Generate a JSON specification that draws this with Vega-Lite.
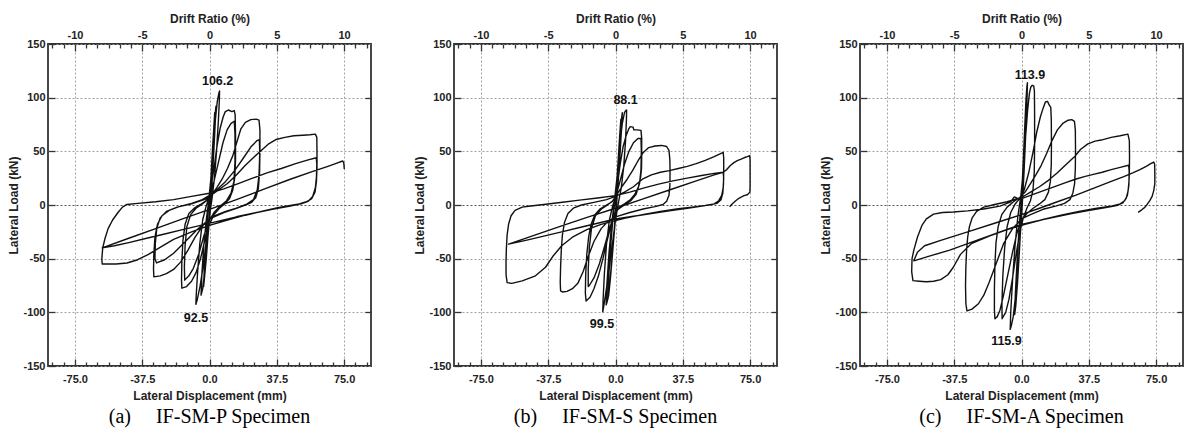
{
"$schema":"https://vega.github.io/schema/vega-lite/v6.json",
"padding":{"left":7,"top":11,"right":0,"bottom":0},
"bounds":"flush",
"spacing":83,
"config":{"view":{"stroke":"#333","strokeWidth":1.8},
"axis":{"labelFont":"Liberation Sans","labelFontWeight":"bold","labelFontSize":11,"labelColor":"#222","titleFont":"Liberation Sans","titleFontWeight":"bold","titleFontSize":12,"titleColor":"#222","domain":false,"tickColor":"#333","tickWidth":1.3,"gridColor":"#999","gridDash":[2,2],"gridWidth":0.9},
"axisY":{"gridColor":{"condition":{"test":"datum.value === 0","value":"#444"},"value":"#999"}}},
"datasets":{
"labels":[{"p":"a","x":4.5,"y":115.5,"t":"106.2"},{"p":"a","x":-7.5,"y":-105,"t":"92.5"},{"p":"b","x":5.6,"y":98,"t":"88.1"},{"p":"b","x":-7.5,"y":-111,"t":"99.5"},{"p":"c","x":4.7,"y":121,"t":"113.9"},{"p":"c","x":-8.4,"y":-126.6,"t":"115.9"}],
"a":[{"x":0,"y":0},{"x":0.8,"y":25},{"x":1.6,"y":50},{"x":2.4,"y":72},{"x":2.9,"y":86},{"x":2.6,"y":74},{"x":1.8,"y":45},{"x":1,"y":18},{"x":0.2,"y":-5},{"x":-0.8,"y":-28},{"x":-1.8,"y":-50},{"x":-2.8,"y":-68},{"x":-3.3,"y":-76},{"x":-2.9,"y":-60},{"x":-2,"y":-35},{"x":-1,"y":-12},{"x":0,"y":6},
{"x":1,"y":30},{"x":2,"y":58},{"x":3,"y":82},{"x":3.6,"y":92},{"x":3.3,"y":80},{"x":2.4,"y":50},{"x":1.4,"y":20},{"x":0.4,"y":-6},{"x":-1,"y":-32},{"x":-2.4,"y":-58},{"x":-3.8,"y":-78},{"x":-4.7,"y":-84},{"x":-4.3,"y":-66},{"x":-3.2,"y":-38},{"x":-1.8,"y":-14},{"x":-0.5,"y":3},
{"x":0.8,"y":25},{"x":2,"y":52},{"x":3.2,"y":78},{"x":4.3,"y":96},{"x":5.2,"y":104},{"x":5.6,"y":106.2},{"x":5.5,"y":98},{"x":5,"y":80},{"x":4,"y":52},{"x":2.8,"y":26},{"x":1.4,"y":6},{"x":0,"y":-10},{"x":-1.8,"y":-34},{"x":-3.6,"y":-58},{"x":-5.3,"y":-76},{"x":-6.8,"y":-88},{"x":-7.6,"y":-92.5},{"x":-7.4,"y":-84},{"x":-6.6,"y":-62},{"x":-5.4,"y":-36},{"x":-3.8,"y":-14},{"x":-2,"y":-2},{"x":-0.5,"y":6},
{"x":0.8,"y":16},{"x":2.5,"y":34},{"x":4.2,"y":55},{"x":6,"y":72},{"x":7.6,"y":82},{"x":8.8,"y":87},{"x":10.5,"y":88.5},{"x":12.5,"y":87},{"x":13.8,"y":88},{"x":14.3,"y":84},{"x":14.5,"y":65},{"x":14.5,"y":42},{"x":14.1,"y":26},{"x":13,"y":14},{"x":11.2,"y":6},{"x":8.8,"y":1.5},{"x":5.5,"y":-3},{"x":2.5,"y":-9},{"x":0,"y":-18},{"x":-2.5,"y":-32},{"x":-5,"y":-50},{"x":-7.5,"y":-63},{"x":-10,"y":-71},{"x":-12.8,"y":-76},{"x":-15.4,"y":-77.5},{"x":-15.6,"y":-70},{"x":-15.4,"y":-52},{"x":-14.8,"y":-33},{"x":-13.6,"y":-18},{"x":-11.5,"y":-8},{"x":-8.5,"y":-3},{"x":-5,"y":0.5},{"x":-2,"y":4},
{"x":0,"y":9},{"x":2.5,"y":22},{"x":5,"y":40},{"x":7.5,"y":58},{"x":9.8,"y":70},{"x":12,"y":76},{"x":13.8,"y":78},{"x":14.2,"y":66},{"x":14.2,"y":40},{"x":13.6,"y":22},{"x":12,"y":11},{"x":9.5,"y":4},{"x":6,"y":-1},{"x":2.5,"y":-7},{"x":0,"y":-14},{"x":-3,"y":-28},{"x":-6,"y":-46},{"x":-9,"y":-59},{"x":-11.5,"y":-66},{"x":-13.8,"y":-70},{"x":-14,"y":-58},{"x":-13.6,"y":-38},{"x":-12.6,"y":-20},{"x":-10.5,"y":-9},{"x":-7.5,"y":-3},{"x":-4,"y":1},{"x":-1,"y":5},
{"x":1.5,"y":10},{"x":4,"y":16},{"x":7,"y":24},{"x":10,"y":34},{"x":13,"y":46},{"x":15.5,"y":60},{"x":17.5,"y":71},{"x":20,"y":77},{"x":23,"y":79.5},{"x":26,"y":80},{"x":27.6,"y":79},{"x":28.1,"y":70},{"x":28.1,"y":50},{"x":27.9,"y":30},{"x":27.2,"y":15},{"x":25.8,"y":7},{"x":23.5,"y":2.5},{"x":20,"y":0},{"x":15,"y":-3},{"x":9,"y":-6},{"x":3,"y":-10},{"x":0,"y":-13},{"x":-4,"y":-20},{"x":-8,"y":-30},{"x":-12,"y":-42},{"x":-16,"y":-53},{"x":-20,"y":-60},{"x":-24,"y":-64},{"x":-27.5,"y":-66},{"x":-31,"y":-67},{"x":-31.2,"y":-60},{"x":-31,"y":-45},{"x":-30.4,"y":-30},{"x":-29,"y":-18},{"x":-26.5,"y":-10},{"x":-22.5,"y":-5},{"x":-17,"y":-1.5},{"x":-10,"y":1.5},{"x":-4,"y":5},{"x":0,"y":9},
{"x":4,"y":14},{"x":9,"y":22},{"x":14,"y":32},{"x":19,"y":44},{"x":23,"y":54},{"x":26.5,"y":60},{"x":27.8,"y":61},{"x":28,"y":48},{"x":27.6,"y":28},{"x":26.6,"y":14},{"x":24.5,"y":5},{"x":21,"y":1},{"x":15,"y":-3},{"x":8,"y":-7},{"x":0,"y":-13},{"x":-7,"y":-23},{"x":-14,"y":-35},{"x":-20,"y":-45},{"x":-25,"y":-51},{"x":-29.5,"y":-54},{"x":-30.4,"y":-50},{"x":-30.2,"y":-36},{"x":-29.4,"y":-22},{"x":-27.5,"y":-12},{"x":-24,"y":-6},{"x":-18,"y":-2},{"x":-10,"y":1},{"x":-3,"y":5},{"x":0,"y":8},
{"x":5,"y":14},{"x":10,"y":20},{"x":15,"y":28},{"x":20,"y":37},{"x":25,"y":45},{"x":29,"y":51},{"x":33,"y":57},{"x":37,"y":61},{"x":42,"y":63},{"x":47,"y":64.5},{"x":52,"y":65},{"x":56,"y":65.5},{"x":59,"y":66},{"x":59.8,"y":63},{"x":59.9,"y":50},{"x":59.9,"y":35},{"x":59.6,"y":22},{"x":58.8,"y":12},{"x":57,"y":6},{"x":54,"y":3},{"x":50,"y":1},{"x":45,"y":-0.5},{"x":38,"y":-2.5},{"x":30,"y":-5.5},{"x":20,"y":-9.5},{"x":10,"y":-14},{"x":0,"y":-19},{"x":-10,"y":-25},{"x":-20,"y":-32},{"x":-28,"y":-40},{"x":-34,"y":-46},{"x":-40,"y":-51},{"x":-46,"y":-54},{"x":-52,"y":-55},{"x":-56.5,"y":-55},{"x":-59.8,"y":-55},{"x":-60,"y":-50},{"x":-59.5,"y":-40},{"x":-58.2,"y":-31},{"x":-56.5,"y":-22},{"x":-54,"y":-14},{"x":-51,"y":-7},{"x":-48.5,"y":-2},{"x":-46,"y":0.5},{"x":-40,"y":1.5},{"x":-30,"y":3},{"x":-20,"y":5},{"x":-10,"y":8},{"x":0,"y":11},
{"x":8,"y":15},{"x":16,"y":20},{"x":24,"y":25},{"x":32,"y":30},{"x":40,"y":34},{"x":48,"y":38.5},{"x":55,"y":42},{"x":59.5,"y":44},{"x":59.8,"y":38},{"x":59.6,"y":26},{"x":59,"y":16},{"x":57.5,"y":8},{"x":55,"y":3.5},{"x":51,"y":1},{"x":45,"y":-1},{"x":35,"y":-4},{"x":25,"y":-7.5},{"x":15,"y":-11},{"x":5,"y":-15},{"x":-5,"y":-19},{"x":-15,"y":-23},{"x":-25,"y":-27},{"x":-35,"y":-31},{"x":-45,"y":-35},{"x":-53,"y":-38},{"x":-59.8,"y":-40},
{"x":-45,"y":-31},{"x":-30,"y":-22},{"x":-15,"y":-13},{"x":0,"y":-4},{"x":15,"y":5},{"x":30,"y":14.5},{"x":45,"y":24},{"x":58,"y":31.5},{"x":66,"y":36},{"x":71,"y":39},{"x":74.2,"y":41},{"x":74.8,"y":39.5},{"x":75,"y":36},{"x":75.1,"y":33.5}],
"b":[{"x":0,"y":0},{"x":0.8,"y":22},{"x":1.6,"y":45},{"x":2.4,"y":66},{"x":3,"y":80},{"x":2.7,"y":68},{"x":1.8,"y":40},{"x":0.8,"y":12},{"x":-0.4,"y":-16},{"x":-1.6,"y":-44},{"x":-2.8,"y":-68},{"x":-3.8,"y":-84},{"x":-4.3,"y":-88},{"x":-3.9,"y":-70},{"x":-2.9,"y":-42},{"x":-1.6,"y":-16},{"x":-0.3,"y":4},
{"x":0.9,"y":26},{"x":2,"y":54},{"x":3,"y":76},{"x":3.8,"y":86},{"x":3.4,"y":72},{"x":2.4,"y":44},{"x":1.2,"y":14},{"x":0,"y":-12},{"x":-1.6,"y":-44},{"x":-3.2,"y":-72},{"x":-4.6,"y":-90},{"x":-5.2,"y":-93},{"x":-4.8,"y":-74},{"x":-3.6,"y":-44},{"x":-2,"y":-16},{"x":-0.6,"y":4},
{"x":1,"y":28},{"x":2.4,"y":56},{"x":3.8,"y":76},{"x":5,"y":86},{"x":5.8,"y":88.1},{"x":6.2,"y":88.5},{"x":6.1,"y":80},{"x":5.6,"y":60},{"x":4.6,"y":36},{"x":3.2,"y":16},{"x":1.6,"y":2},{"x":0,"y":-14},{"x":-2,"y":-40},{"x":-4,"y":-66},{"x":-5.6,"y":-84},{"x":-6.6,"y":-95},{"x":-7.1,"y":-99.5},{"x":-6.9,"y":-88},{"x":-6.2,"y":-64},{"x":-5,"y":-36},{"x":-3.4,"y":-14},{"x":-1.6,"y":-1},{"x":0,"y":7},
{"x":1.2,"y":20},{"x":2.6,"y":38},{"x":4.2,"y":54},{"x":5.8,"y":64},{"x":7.4,"y":71},{"x":8.2,"y":73},{"x":9.8,"y":72.5},{"x":10.2,"y":70},{"x":12,"y":70},{"x":14.2,"y":69.5},{"x":14.6,"y":62},{"x":14.6,"y":45},{"x":14.5,"y":34},{"x":14,"y":26},{"x":12.8,"y":17},{"x":10.8,"y":10},{"x":8,"y":4.5},{"x":5,"y":1},{"x":2,"y":-2},{"x":0,"y":-6},{"x":-2,"y":-16},{"x":-4.5,"y":-32},{"x":-7,"y":-50},{"x":-9.5,"y":-66},{"x":-12,"y":-78},{"x":-14.2,"y":-86},{"x":-16.4,"y":-89.5},{"x":-16.8,"y":-82},{"x":-16.6,"y":-64},{"x":-16,"y":-46},{"x":-15,"y":-30},{"x":-13.6,"y":-18},{"x":-11.5,"y":-9},{"x":-8.5,"y":-3.5},{"x":-5,"y":0},{"x":-2,"y":3},
{"x":0,"y":7},{"x":2.5,"y":22},{"x":5,"y":38},{"x":7.5,"y":50},{"x":10,"y":58},{"x":12.5,"y":62},{"x":14.2,"y":62},{"x":14.4,"y":50},{"x":14.2,"y":33},{"x":13.4,"y":20},{"x":11.5,"y":10},{"x":8.5,"y":4},{"x":5,"y":0},{"x":1.5,"y":-4},{"x":0,"y":-7},{"x":-3,"y":-20},{"x":-6,"y":-38},{"x":-9,"y":-55},{"x":-12,"y":-68},{"x":-14.6,"y":-75},{"x":-15.2,"y":-76},{"x":-15.2,"y":-60},{"x":-14.6,"y":-40},{"x":-13.4,"y":-22},{"x":-11.2,"y":-10},{"x":-8,"y":-4},{"x":-4.5,"y":0},{"x":-1.5,"y":4},
{"x":0.5,"y":9},{"x":3.5,"y":17},{"x":6.5,"y":24},{"x":9.5,"y":32},{"x":12.5,"y":41},{"x":15.5,"y":49},{"x":18.5,"y":53.5},{"x":22,"y":55},{"x":25.5,"y":55.5},{"x":28.5,"y":54.5},{"x":29.8,"y":51},{"x":30.3,"y":42},{"x":30.4,"y":30},{"x":30.3,"y":18},{"x":29.8,"y":9},{"x":28.5,"y":3.5},{"x":26.5,"y":0.5},{"x":22,"y":-1.5},{"x":16,"y":-3.5},{"x":8,"y":-7},{"x":0,"y":-11},{"x":-4,"y":-15},{"x":-8,"y":-22},{"x":-12,"y":-34},{"x":-15,"y":-47},{"x":-18,"y":-62},{"x":-21,"y":-73},{"x":-24,"y":-78},{"x":-27,"y":-80.5},{"x":-29.6,"y":-81},{"x":-30.6,"y":-80},{"x":-30.8,"y":-72},{"x":-30.6,"y":-58},{"x":-30.2,"y":-42},{"x":-29.6,"y":-28},{"x":-28.4,"y":-16},{"x":-26.5,"y":-8},{"x":-23.5,"y":-3},{"x":-19,"y":0},{"x":-12,"y":2.5},{"x":-5,"y":5},{"x":0,"y":8},
{"x":5,"y":12},{"x":10,"y":17},{"x":15,"y":24},{"x":20,"y":28},{"x":25,"y":30.5},{"x":30,"y":32},{"x":35,"y":34},{"x":40,"y":36},{"x":45,"y":38.5},{"x":50,"y":41.5},{"x":55,"y":45},{"x":58,"y":47.5},{"x":60,"y":49},{"x":60.3,"y":44},{"x":60.3,"y":32},{"x":60.2,"y":20},{"x":59.8,"y":11},{"x":58.8,"y":5},{"x":56.5,"y":1.5},{"x":52,"y":0},{"x":45,"y":-1.5},{"x":35,"y":-3.5},{"x":25,"y":-6},{"x":15,"y":-9},{"x":5,"y":-12.5},{"x":0,"y":-14.5},{"x":-8,"y":-18},{"x":-16,"y":-23},{"x":-24,"y":-30},{"x":-30,"y":-38},{"x":-35,"y":-48},{"x":-39,"y":-58},{"x":-44.6,"y":-66},{"x":-52,"y":-70.7},{"x":-57.8,"y":-73},{"x":-60.4,"y":-72.3},{"x":-61,"y":-65},{"x":-61,"y":-52},{"x":-60.8,"y":-40},{"x":-60.4,"y":-28},{"x":-59.6,"y":-18},{"x":-58.2,"y":-10},{"x":-56,"y":-5},{"x":-52,"y":-2},{"x":-48.4,"y":-1.2},{"x":-40,"y":0.5},{"x":-29.6,"y":2.5},{"x":-20,"y":4.5},{"x":-10,"y":6.5},{"x":0,"y":8.7},
{"x":8,"y":12},{"x":16,"y":16},{"x":24,"y":19.5},{"x":32,"y":22.5},{"x":40,"y":25},{"x":48,"y":27.5},{"x":55,"y":29.5},{"x":60,"y":30.5},{"x":60.3,"y":25},{"x":60,"y":16},{"x":59.2,"y":9},{"x":57.5,"y":4},{"x":55,"y":1},{"x":50,"y":-0.5},{"x":40,"y":-3},{"x":30,"y":-5.5},{"x":20,"y":-8},{"x":10,"y":-10.5},{"x":0,"y":-13},{"x":-10,"y":-17},{"x":-20,"y":-21},{"x":-30,"y":-25},{"x":-40,"y":-29},{"x":-50,"y":-33},{"x":-59.6,"y":-36.5},
{"x":-45,"y":-28},{"x":-30,"y":-19.5},{"x":-15,"y":-11},{"x":0,"y":-3},{"x":15,"y":5.5},{"x":30,"y":14},{"x":45,"y":22.5},{"x":55,"y":28},{"x":60,"y":30.5},{"x":62,"y":33},{"x":64,"y":36.8},{"x":66,"y":39.5},{"x":67.9,"y":41.4},{"x":70,"y":42.8},{"x":71.6,"y":44},{"x":73.5,"y":45},{"x":74.8,"y":46},{"x":75,"y":42},{"x":75,"y":30},{"x":75,"y":18},{"x":74.9,"y":12},{"x":73.5,"y":9.5},{"x":71.6,"y":8.7},{"x":69,"y":6.5},{"x":67,"y":4},{"x":65,"y":1},{"x":63.6,"y":-1.6}],
"c":[{"x":0,"y":0},{"x":0.7,"y":28},{"x":1.4,"y":56},{"x":2.1,"y":82},{"x":2.7,"y":100},{"x":2.4,"y":84},{"x":1.6,"y":52},{"x":0.8,"y":20},{"x":-0.2,"y":-12},{"x":-1.2,"y":-44},{"x":-2.2,"y":-72},{"x":-3.2,"y":-94},{"x":-3.8,"y":-102},{"x":-3.4,"y":-82},{"x":-2.4,"y":-50},{"x":-1.2,"y":-18},{"x":0,"y":6},
{"x":0.8,"y":34},{"x":1.7,"y":68},{"x":2.5,"y":98},{"x":3,"y":110},{"x":3.3,"y":113.9},{"x":3.1,"y":100},{"x":2.4,"y":68},{"x":1.4,"y":30},{"x":0.2,"y":-6},{"x":-1.4,"y":-46},{"x":-3,"y":-80},{"x":-4.6,"y":-104},{"x":-5.6,"y":-112},{"x":-6.3,"y":-115.9},{"x":-6,"y":-100},{"x":-5,"y":-70},{"x":-3.6,"y":-38},{"x":-2,"y":-10},{"x":-0.4,"y":8},
{"x":1,"y":32},{"x":2.2,"y":62},{"x":3.4,"y":88},{"x":4.4,"y":104},{"x":5.2,"y":110},{"x":6,"y":111.5},{"x":6.8,"y":111},{"x":7.2,"y":106},{"x":7.3,"y":85},{"x":7.3,"y":55},{"x":7.1,"y":30},{"x":6.4,"y":14},{"x":5,"y":4},{"x":3,"y":-3},{"x":1,"y":-12},{"x":-1,"y":-26},{"x":-3,"y":-46},{"x":-5,"y":-68},{"x":-7,"y":-88},{"x":-8.8,"y":-100},{"x":-10.2,"y":-104},{"x":-10.8,"y":-106},{"x":-10.9,"y":-92},{"x":-10.4,"y":-66},{"x":-9.4,"y":-40},{"x":-8,"y":-20},{"x":-6,"y":-7},{"x":-3.5,"y":1},{"x":-1,"y":6},
{"x":1.5,"y":14},{"x":4,"y":30},{"x":6.5,"y":50},{"x":8.5,"y":68},{"x":10.5,"y":82},{"x":12,"y":90},{"x":13.3,"y":96},{"x":14.5,"y":96.5},{"x":15.5,"y":93},{"x":16.3,"y":91},{"x":16.6,"y":80},{"x":16.7,"y":58},{"x":16.6,"y":38},{"x":16.1,"y":22},{"x":15,"y":12},{"x":13,"y":5},{"x":10,"y":1},{"x":6.5,"y":-3},{"x":3,"y":-8},{"x":0,"y":-14},{"x":-2.5,"y":-26},{"x":-5,"y":-44},{"x":-7.5,"y":-64},{"x":-10,"y":-84},{"x":-12,"y":-98},{"x":-13.5,"y":-104},{"x":-14.8,"y":-106},{"x":-15.1,"y":-98},{"x":-15.1,"y":-78},{"x":-14.8,"y":-55},{"x":-14.2,"y":-35},{"x":-13,"y":-20},{"x":-11,"y":-9},{"x":-8,"y":-2},{"x":-4.5,"y":3},{"x":-1,"y":7},
{"x":2,"y":12},{"x":5,"y":20},{"x":8,"y":28},{"x":11,"y":37},{"x":14,"y":48},{"x":17,"y":60},{"x":20,"y":70},{"x":23,"y":76},{"x":26,"y":79},{"x":28,"y":79.5},{"x":29.5,"y":78},{"x":30,"y":70},{"x":30.1,"y":52},{"x":30,"y":34},{"x":29.6,"y":20},{"x":28.6,"y":11},{"x":27,"y":5},{"x":24,"y":1.5},{"x":19,"y":-1},{"x":12,"y":-4},{"x":5,"y":-9},{"x":0,"y":-13},{"x":-5,"y":-22},{"x":-10,"y":-36},{"x":-14,"y":-54},{"x":-18,"y":-72},{"x":-21,"y":-84},{"x":-24,"y":-92},{"x":-27.6,"y":-97},{"x":-30.4,"y":-98.7},{"x":-31,"y":-92},{"x":-31.2,"y":-75},{"x":-31,"y":-58},{"x":-30.6,"y":-42},{"x":-30,"y":-30},{"x":-29,"y":-20},{"x":-27.5,"y":-12},{"x":-25,"y":-6},{"x":-21,"y":-2},{"x":-15,"y":0.5},{"x":-8,"y":3},{"x":0,"y":7},
{"x":5,"y":12},{"x":10,"y":17},{"x":15,"y":23},{"x":20,"y":30},{"x":25,"y":38},{"x":29.5,"y":45},{"x":33,"y":52},{"x":37,"y":57},{"x":41,"y":59.5},{"x":44.4,"y":60.5},{"x":50,"y":63},{"x":55,"y":64.5},{"x":59.3,"y":66},{"x":60.1,"y":60},{"x":60.2,"y":45},{"x":60.1,"y":30},{"x":59.8,"y":18},{"x":59,"y":9},{"x":57.5,"y":4},{"x":55,"y":1},{"x":50,"y":-1},{"x":42,"y":-3},{"x":32,"y":-6},{"x":22,"y":-9.5},{"x":12,"y":-13.5},{"x":2,"y":-18},{"x":-8,"y":-23},{"x":-18,"y":-29},{"x":-28,"y":-36},{"x":-34,"y":-46},{"x":-38,"y":-58},{"x":-41,"y":-65},{"x":-45,"y":-69.5},{"x":-49,"y":-71},{"x":-53,"y":-71.5},{"x":-57,"y":-71},{"x":-60.5,"y":-70.5},{"x":-61.2,"y":-62},{"x":-61,"y":-50},{"x":-60,"y":-42},{"x":-58,"y":-30},{"x":-55.5,"y":-19},{"x":-53,"y":-13},{"x":-49,"y":-8.5},{"x":-44,"y":-7},{"x":-38,"y":-6.5},{"x":-30,"y":-5.5},{"x":-21,"y":-3.7},{"x":-12,"y":-1},{"x":-6,"y":3},{"x":-4,"y":7.5},{"x":-2,"y":6},{"x":0,"y":6},
{"x":5,"y":9},{"x":10,"y":12},{"x":15,"y":15},{"x":20,"y":18},{"x":25,"y":21},{"x":30,"y":24},{"x":35,"y":26.5},{"x":40,"y":28.5},{"x":45,"y":30.5},{"x":50,"y":33},{"x":55,"y":35},{"x":59.7,"y":37},{"x":60,"y":32},{"x":59.9,"y":22},{"x":59.4,"y":13},{"x":58.4,"y":6.5},{"x":56.5,"y":2},{"x":53,"y":-0.5},{"x":47,"y":-2.5},{"x":38,"y":-5},{"x":28,"y":-8},{"x":18,"y":-11.5},{"x":8,"y":-15},{"x":0,"y":-18},{"x":-10,"y":-24},{"x":-20,"y":-30},{"x":-30,"y":-36},{"x":-40,"y":-42},{"x":-50,"y":-47},{"x":-60,"y":-52},
{"x":-58,"y":-44},{"x":-54,"y":-38},{"x":-45,"y":-33},{"x":-30,"y":-25},{"x":-15,"y":-17},{"x":0,"y":-9},{"x":10,"y":-3},{"x":20,"y":3},{"x":30,"y":9},{"x":40,"y":15.5},{"x":50,"y":22},{"x":57,"y":26.5},{"x":62,"y":30},{"x":66,"y":33},{"x":69.5,"y":36},{"x":72,"y":38.5},{"x":73.7,"y":40},{"x":74.2,"y":38},{"x":74.3,"y":30},{"x":74.3,"y":20},{"x":73.7,"y":13.4},{"x":72.8,"y":8},{"x":71.5,"y":4},{"x":70,"y":0.5},{"x":68.7,"y":-2.2},{"x":67,"y":-4.5},{"x":65,"y":-6.9}]
},
"hconcat":[
{"width":323,"height":322,
"title":{"text":"(a)\u00a0\u00a0\u00a0\u00a0\u00a0IF-SM-P Specimen","orient":"bottom","font":"Liberation Serif","fontSize":20,"fontWeight":"normal","color":"#000","offset":6},
"layer":[
{"data":{"name":"a"},"mark":{"type":"line","color":"#111","strokeWidth":1.4,"strokeJoin":"round"},
"encoding":{"x":{"field":"x","type":"quantitative","scale":{"domain":[-90,90],"nice":false,"zero":false},"axis":{"orient":"bottom","values":[-75,-37.5,0,37.5,75],"labelExpr":"datum.value == 0 ? '0.0' : (datum.value % 1 == 0 ? datum.value + '.0' : '' + datum.value)","grid":true,"tickSize":-7,"labelPadding":14,"title":"Lateral Displacement (mm)","titlePadding":6}},
"y":{"field":"y","type":"quantitative","scale":{"domain":[-150,150],"nice":false,"zero":false},"axis":{"orient":"left","values":[-150,-100,-50,0,50,100,150],"labelExpr":"'' + datum.value","grid":true,"tickSize":-7,"labelPadding":10,"title":"Lateral Load (kN)","titlePadding":2}},
"order":{"value":null}}},
{"data":{"name":"labels"},"transform":[{"filter":"datum.p == 'a'"}],"mark":{"type":"text","font":"Liberation Sans","fontWeight":"bold","fontSize":12.5,"color":"#111"},
"encoding":{"x":{"field":"x","type":"quantitative","scale":{"domain":[-90,90],"nice":false,"zero":false},"axis":{"orient":"top","values":[-75,-37.5,0,37.5,75],"labelExpr":"'' + (datum.value / 7.5)","grid":false,"tickSize":-7,"labelPadding":11,"title":"Drift Ratio (%)","titlePadding":4}},
"y":{"field":"y","type":"quantitative","scale":{"domain":[-150,150],"nice":false,"zero":false},"axis":{"orient":"right","values":[-100,-50,0,50,100],"labels":false,"grid":false,"tickSize":-6,"title":null}},
"text":{"field":"t"}}},
{"data":{"name":"labels"},"transform":[{"filter":"datum.p == 'a'"}],"mark":{"type":"point","opacity":0},
"encoding":{"x":{"field":"x","type":"quantitative","scale":{"domain":[-90,90],"nice":false,"zero":false},"axis":{"orient":"bottom","values":[-87.5,-81.25,-68.75,-62.5,-56.25,-50,-43.75,-31.25,-25,-18.75,-12.5,-6.25,6.25,12.5,18.75,25,31.25,43.75,50,56.25,62.5,68.75,81.25,87.5],"labels":false,"grid":false,"tickSize":-4,"title":null}},
"y":{"field":"y","type":"quantitative","scale":{"domain":[-150,150],"nice":false,"zero":false},"axis":null}}},
{"data":{"name":"labels"},"transform":[{"filter":"datum.p == 'a'"}],"mark":{"type":"point","opacity":0},
"encoding":{"x":{"field":"x","type":"quantitative","scale":{"domain":[-90,90],"nice":false,"zero":false},"axis":{"orient":"top","values":[-87.5,-81.25,-68.75,-62.5,-56.25,-50,-43.75,-31.25,-25,-18.75,-12.5,-6.25,6.25,12.5,18.75,25,31.25,43.75,50,56.25,62.5,68.75,81.25,87.5],"labels":false,"grid":false,"tickSize":-4,"title":null}},
"y":{"field":"y","type":"quantitative","scale":{"domain":[-150,150],"nice":false,"zero":false},"axis":null}}}
],
"resolve":{"axis":{"x":"independent","y":"independent"}}},
{"width":323,"height":322,
"title":{"text":"(b)\u00a0\u00a0\u00a0\u00a0\u00a0IF-SM-S Specimen","orient":"bottom","font":"Liberation Serif","fontSize":20,"fontWeight":"normal","color":"#000","offset":6},
"layer":[
{"data":{"name":"b"},"mark":{"type":"line","color":"#111","strokeWidth":1.4,"strokeJoin":"round"},
"encoding":{"x":{"field":"x","type":"quantitative","scale":{"domain":[-90,90],"nice":false,"zero":false},"axis":{"orient":"bottom","values":[-75,-37.5,0,37.5,75],"labelExpr":"datum.value == 0 ? '0.0' : (datum.value % 1 == 0 ? datum.value + '.0' : '' + datum.value)","grid":true,"tickSize":-7,"labelPadding":14,"title":"Lateral Displacement (mm)","titlePadding":6}},
"y":{"field":"y","type":"quantitative","scale":{"domain":[-150,150],"nice":false,"zero":false},"axis":{"orient":"left","values":[-150,-100,-50,0,50,100,150],"labelExpr":"'' + datum.value","grid":true,"tickSize":-7,"labelPadding":10,"title":"Lateral Load (kN)","titlePadding":2}},
"order":{"value":null}}},
{"data":{"name":"labels"},"transform":[{"filter":"datum.p == 'b'"}],"mark":{"type":"text","font":"Liberation Sans","fontWeight":"bold","fontSize":12.5,"color":"#111"},
"encoding":{"x":{"field":"x","type":"quantitative","scale":{"domain":[-90,90],"nice":false,"zero":false},"axis":{"orient":"top","values":[-75,-37.5,0,37.5,75],"labelExpr":"'' + (datum.value / 7.5)","grid":false,"tickSize":-7,"labelPadding":11,"title":"Drift Ratio (%)","titlePadding":4}},
"y":{"field":"y","type":"quantitative","scale":{"domain":[-150,150],"nice":false,"zero":false},"axis":{"orient":"right","values":[-100,-50,0,50,100],"labels":false,"grid":false,"tickSize":-6,"title":null}},
"text":{"field":"t"}}},
{"data":{"name":"labels"},"transform":[{"filter":"datum.p == 'b'"}],"mark":{"type":"point","opacity":0},
"encoding":{"x":{"field":"x","type":"quantitative","scale":{"domain":[-90,90],"nice":false,"zero":false},"axis":{"orient":"bottom","values":[-87.5,-81.25,-68.75,-62.5,-56.25,-50,-43.75,-31.25,-25,-18.75,-12.5,-6.25,6.25,12.5,18.75,25,31.25,43.75,50,56.25,62.5,68.75,81.25,87.5],"labels":false,"grid":false,"tickSize":-4,"title":null}},
"y":{"field":"y","type":"quantitative","scale":{"domain":[-150,150],"nice":false,"zero":false},"axis":null}}},
{"data":{"name":"labels"},"transform":[{"filter":"datum.p == 'b'"}],"mark":{"type":"point","opacity":0},
"encoding":{"x":{"field":"x","type":"quantitative","scale":{"domain":[-90,90],"nice":false,"zero":false},"axis":{"orient":"top","values":[-87.5,-81.25,-68.75,-62.5,-56.25,-50,-43.75,-31.25,-25,-18.75,-12.5,-6.25,6.25,12.5,18.75,25,31.25,43.75,50,56.25,62.5,68.75,81.25,87.5],"labels":false,"grid":false,"tickSize":-4,"title":null}},
"y":{"field":"y","type":"quantitative","scale":{"domain":[-150,150],"nice":false,"zero":false},"axis":null}}}
],
"resolve":{"axis":{"x":"independent","y":"independent"}}},
{"width":323,"height":322,
"title":{"text":"(c)\u00a0\u00a0\u00a0\u00a0\u00a0IF-SM-A Specimen","orient":"bottom","font":"Liberation Serif","fontSize":20,"fontWeight":"normal","color":"#000","offset":6},
"layer":[
{"data":{"name":"c"},"mark":{"type":"line","color":"#111","strokeWidth":1.4,"strokeJoin":"round"},
"encoding":{"x":{"field":"x","type":"quantitative","scale":{"domain":[-90,90],"nice":false,"zero":false},"axis":{"orient":"bottom","values":[-75,-37.5,0,37.5,75],"labelExpr":"datum.value == 0 ? '0.0' : (datum.value % 1 == 0 ? datum.value + '.0' : '' + datum.value)","grid":true,"tickSize":-7,"labelPadding":14,"title":"Lateral Displacement (mm)","titlePadding":6}},
"y":{"field":"y","type":"quantitative","scale":{"domain":[-150,150],"nice":false,"zero":false},"axis":{"orient":"left","values":[-150,-100,-50,0,50,100,150],"labelExpr":"'' + datum.value","grid":true,"tickSize":-7,"labelPadding":10,"title":"Lateral Load (kN)","titlePadding":2}},
"order":{"value":null}}},
{"data":{"name":"labels"},"transform":[{"filter":"datum.p == 'c'"}],"mark":{"type":"text","font":"Liberation Sans","fontWeight":"bold","fontSize":12.5,"color":"#111"},
"encoding":{"x":{"field":"x","type":"quantitative","scale":{"domain":[-90,90],"nice":false,"zero":false},"axis":{"orient":"top","values":[-75,-37.5,0,37.5,75],"labelExpr":"'' + (datum.value / 7.5)","grid":false,"tickSize":-7,"labelPadding":11,"title":"Drift Ratio (%)","titlePadding":4}},
"y":{"field":"y","type":"quantitative","scale":{"domain":[-150,150],"nice":false,"zero":false},"axis":{"orient":"right","values":[-100,-50,0,50,100],"labels":false,"grid":false,"tickSize":-6,"title":null}},
"text":{"field":"t"}}},
{"data":{"name":"labels"},"transform":[{"filter":"datum.p == 'c'"}],"mark":{"type":"point","opacity":0},
"encoding":{"x":{"field":"x","type":"quantitative","scale":{"domain":[-90,90],"nice":false,"zero":false},"axis":{"orient":"bottom","values":[-87.5,-81.25,-68.75,-62.5,-56.25,-50,-43.75,-31.25,-25,-18.75,-12.5,-6.25,6.25,12.5,18.75,25,31.25,43.75,50,56.25,62.5,68.75,81.25,87.5],"labels":false,"grid":false,"tickSize":-4,"title":null}},
"y":{"field":"y","type":"quantitative","scale":{"domain":[-150,150],"nice":false,"zero":false},"axis":null}}},
{"data":{"name":"labels"},"transform":[{"filter":"datum.p == 'c'"}],"mark":{"type":"point","opacity":0},
"encoding":{"x":{"field":"x","type":"quantitative","scale":{"domain":[-90,90],"nice":false,"zero":false},"axis":{"orient":"top","values":[-87.5,-81.25,-68.75,-62.5,-56.25,-50,-43.75,-31.25,-25,-18.75,-12.5,-6.25,6.25,12.5,18.75,25,31.25,43.75,50,56.25,62.5,68.75,81.25,87.5],"labels":false,"grid":false,"tickSize":-4,"title":null}},
"y":{"field":"y","type":"quantitative","scale":{"domain":[-150,150],"nice":false,"zero":false},"axis":null}}}
],
"resolve":{"axis":{"x":"independent","y":"independent"}}}
]
}
